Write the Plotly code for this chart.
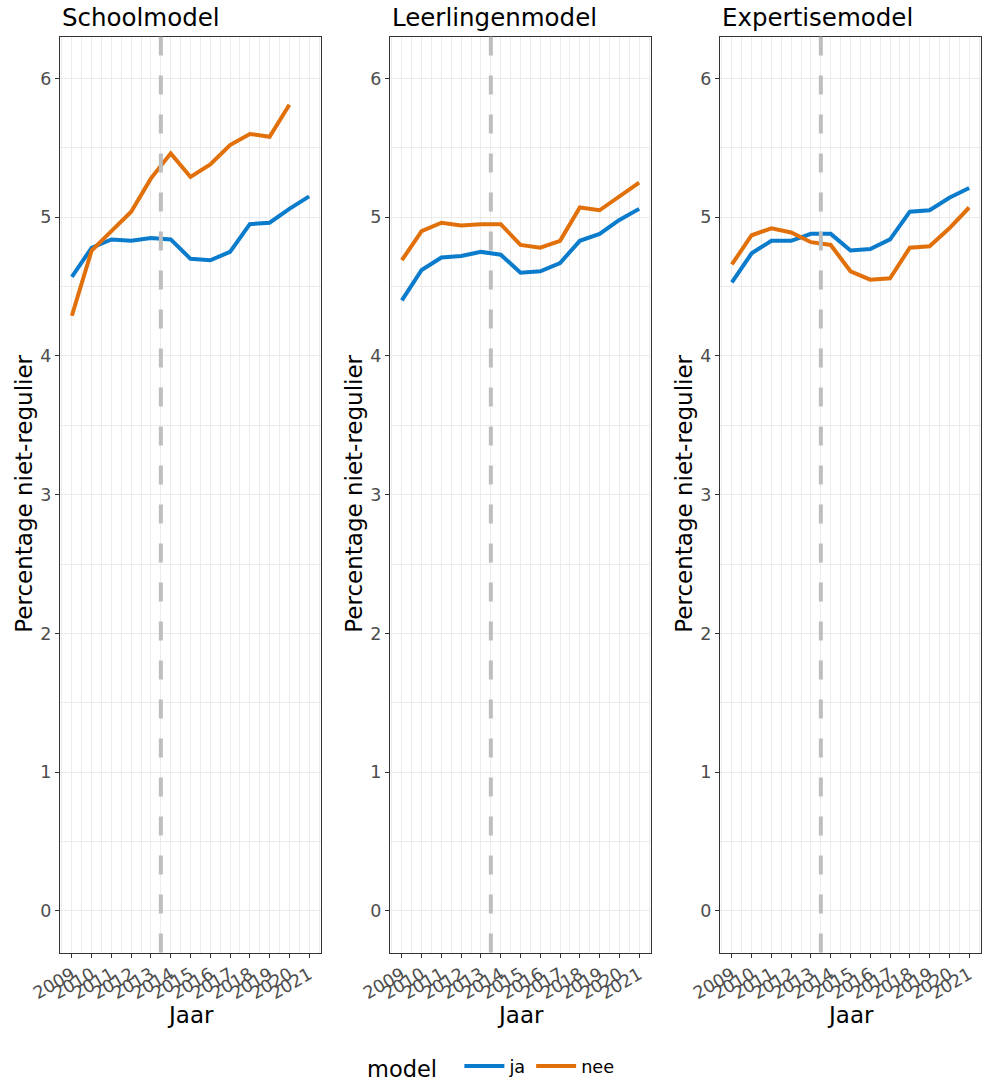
import plotly.graph_objects as go
from plotly.subplots import make_subplots

# Jaren en percentages niet-regulier per model
years = list(range(2009, 2022))
panels = ["Schoolmodel", "Leerlingenmodel", "Expertisemodel"]

school_ja = [4.57, 4.78, 4.84, 4.83, 4.85, 4.84, 4.70, 4.69, 4.75, 4.95, 4.96, 5.06, 5.15]
school_nee = [4.29, 4.76, 4.90, 5.04, 5.28, 5.46, 5.29, 5.38, 5.52, 5.60, 5.58, 5.81]

leerling_ja = [4.40, 4.62, 4.71, 4.72, 4.75, 4.73, 4.60, 4.61, 4.67, 4.83, 4.88, 4.98, 5.06]
leerling_nee = [4.69, 4.90, 4.96, 4.94, 4.95, 4.95, 4.80, 4.78, 4.83, 5.07, 5.05, 5.15, 5.25]

expertise_ja = [4.53, 4.74, 4.83, 4.83, 4.88, 4.88, 4.76, 4.77, 4.84, 5.04, 5.05, 5.14, 5.21]
expertise_nee = [4.66, 4.87, 4.92, 4.89, 4.82, 4.80, 4.61, 4.55, 4.56, 4.78, 4.79, 4.92, 5.07]

series = [
    (school_ja, school_nee),
    (leerling_ja, leerling_nee),
    (expertise_ja, expertise_nee),
]

policy_year = 2013.5
y_ticks = [0, 1, 2, 3, 4, 5, 6]

col_ja = "#0B7BCB"
col_nee = "#E2700A"
FONT = "DejaVu Sans"

W, H = 985, 1088
x_doms_px = [(60, 321), (390, 651), (720, 981)]
y_dom_px = (37, 957)

fig = make_subplots(rows=1, cols=3)

for i, (ja, nee) in enumerate(series):
    c = i + 1
    fig.add_trace(go.Scatter(x=years[:len(ja)], y=ja, mode="lines", name="ja",
                             line=dict(color=col_ja, width=4),
                             legendgroup="ja", showlegend=(i == 0)), row=1, col=c)
    fig.add_trace(go.Scatter(x=years[:len(nee)], y=nee, mode="lines", name="nee",
                             line=dict(color=col_nee, width=4),
                             legendgroup="nee", showlegend=(i == 0)), row=1, col=c)
    fig.add_vline(x=policy_year, line=dict(color="#BEBEBE", width=4, dash="19px,20px"),
                  layer="above", row=1, col=c)

axis_common = dict(
    automargin=False,
    showline=True, linecolor="#333333", linewidth=1.2, mirror=True,
    ticks="outside", ticklen=4, tickcolor="#333333", tickwidth=1.2,
    tickfont=dict(family=FONT, size=17.5, color="#4D4D4D"),
    showgrid=True, gridcolor="#EBEBEB", gridwidth=1.3, zeroline=False,
)

for i in range(3):
    x0, x1 = x_doms_px[i]
    xa = "xaxis" if i == 0 else f"xaxis{i + 1}"
    ya = "yaxis" if i == 0 else f"yaxis{i + 1}"
    fig.layout[xa].update(
        domain=[x0 / W, x1 / W], range=[2008.4, 2021.6],
        tickmode="array", tickvals=years, ticktext=[str(y) for y in years],
        tickangle=-30,
        minor=dict(tickmode="linear", tick0=2008.5, dtick=1, showgrid=True,
                   gridcolor="#EBEBEB", gridwidth=0.8),
        **axis_common,
    )
    fig.layout[ya].update(
        domain=[1 - y_dom_px[1] / H, 1 - y_dom_px[0] / H], range=[-0.3, 6.3],
        tickmode="array", tickvals=y_ticks, ticktext=[str(v) for v in y_ticks],
        minor=dict(tickmode="linear", tick0=0.5, dtick=1, showgrid=True,
                   gridcolor="#EBEBEB", gridwidth=0.8),
        **axis_common,
    )
    # panel title
    fig.add_annotation(text=panels[i], xref="paper", yref="paper",
                       x=x0 / W, y=1 - 18 / H, xanchor="left", yanchor="middle",
                       showarrow=False, font=dict(family=FONT, size=24.5, color="#000000"))
    # x-axis title
    fig.add_annotation(text="Jaar", xref="paper", yref="paper",
                       x=(x0 + x1) / 2 / W, y=1 - 1020 / H, xanchor="center", yanchor="middle",
                       showarrow=False, font=dict(family=FONT, size=23, color="#000000"))
    # y-axis title
    fig.add_annotation(text="Percentage niet-regulier", xref="paper", yref="paper",
                       x=(x0 - 36) / W, y=1 - 496 / H, xanchor="center", yanchor="middle",
                       textangle=-90, showarrow=False,
                       font=dict(family=FONT, size=23, color="#000000"))

fig.update_layout(
    width=W, height=H,
    margin=dict(l=0, r=0, t=0, b=0),
    paper_bgcolor="white", plot_bgcolor="white",
    font=dict(family=FONT),
    legend=dict(orientation="h", x=0.5, xanchor="center", y=1 - 1073 / H, yanchor="middle",
                title=dict(text="model  ", font=dict(family=FONT, size=22.5, color="#000000")),
                font=dict(family=FONT, size=17.7, color="#000000"),
                itemwidth=40, bgcolor="rgba(0,0,0,0)"),
)

fig.write_html("out.html")
